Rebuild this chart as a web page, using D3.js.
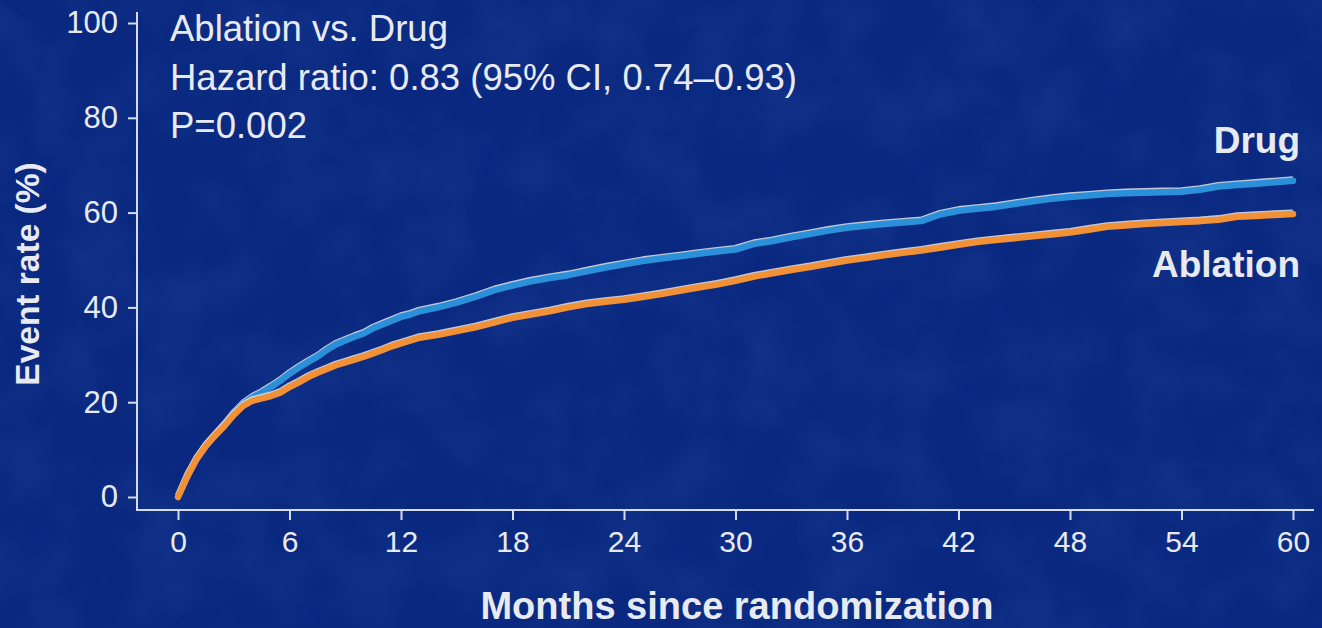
<!DOCTYPE html>
<html>
<head>
<meta charset="utf-8">
<script src="https://cdn.jsdelivr.net/npm/d3@7"></script>
<style>
  html, body { margin: 0; padding: 0; background: #0a2880; }
  svg { display: block; }
  text { font-family: "Liberation Sans", Arial, sans-serif; fill: #e8eaf2; }
</style>
</head>
<body>
<svg id="chart" width="1322" height="628"></svg>
<script>
// Kaplan–Meier cumulative event rate (%) by month since randomization
const drugMonths = [0,0.5,1,1.5,2,2.5,3,3.5,4,4.5,5,5.5,6,6.5,7,7.5,8,8.5,9,9.5,10,10.5,11,11.5,12,12.5,13,14,15,16,17,18,19,20,21,22,23,24,25,26,27,28,29,30,31,32,33,34,35,36,37,38,39,40,41,42,43,44,45,46,47,48,49,50,51,52,53,54,55,56,57,58,59,60];
const drugRate = [0,4.5,8,10.8,13,15.2,17.6,19.6,21,22,23.2,24.5,26,27.3,28.5,29.6,31,32.2,33,33.8,34.5,35.6,36.4,37.2,38,38.5,39.2,40,41,42.2,43.6,44.6,45.5,46.2,46.8,47.6,48.4,49.1,49.8,50.3,50.8,51.3,51.8,52.2,53.4,54,54.8,55.5,56.2,56.8,57.2,57.6,57.9,58.2,59.6,60.4,60.8,61.2,61.8,62.4,62.9,63.3,63.6,63.9,64.1,64.2,64.3,64.4,64.8,65.5,65.8,66.1,66.4,66.7];

const ablationMonths = [0,0.5,1,1.5,2,2.5,3,3.5,4,4.5,5,5.5,6,6.5,7,7.5,8,8.5,9,9.5,10,10.5,11,11.5,12,13,14,15,16,17,18,19,20,21,22,23,24,25,26,27,28,29,30,31,32,33,34,35,36,37,38,39,40,41,42,43,44,45,46,47,48,49,50,51,52,53,54,55,56,57,58,59,60];
const ablationRate = [0,4.3,8,10.8,13,15,17.3,19.2,20.3,20.8,21.3,22,23.2,24.2,25.3,26.2,27,27.8,28.4,29,29.6,30.3,31,31.8,32.4,33.6,34.2,35,35.8,36.8,37.8,38.5,39.2,40,40.7,41.2,41.6,42.2,42.8,43.5,44.2,44.8,45.6,46.5,47.2,47.9,48.5,49.2,49.9,50.4,51,51.5,52,52.6,53.2,53.8,54.2,54.6,55,55.4,55.8,56.4,57,57.3,57.6,57.8,58,58.2,58.5,59.1,59.3,59.5,59.7];

const xTicks = [0,6,12,18,24,30,36,42,48,54,60];
const yTicks = [0,20,40,60,80,100];
const statsLines = ["Ablation vs. Drug", "Hazard ratio: 0.83 (95% CI, 0.74\u20130.93)", "P=0.002"];

const svg = d3.select("#chart");
const W = 1322, H = 628;

// textured navy backdrop
const defs = svg.append("defs");
const f = defs.append("filter").attr("id", "mottle").attr("x", 0).attr("y", 0).attr("width", 1).attr("height", 1);
f.append("feTurbulence").attr("type", "fractalNoise").attr("baseFrequency", 0.015).attr("numOctaves", 3).attr("seed", 7).attr("result", "n");
f.append("feColorMatrix").attr("in", "n").attr("type", "matrix")
  .attr("values", "0 0 0 0 0.06  0 0 0 0 0.19  0 0 0 0 0.56  0 0 0 -1.2 0.75").attr("result", "c");
f.append("feComposite").attr("in", "c").attr("in2", "SourceGraphic").attr("operator", "in");
svg.append("rect").attr("width", W).attr("height", H).attr("fill", "#0a2880");
svg.append("rect").attr("width", W).attr("height", H).attr("fill", "#0a2880").attr("filter", "url(#mottle)").attr("opacity", 0.22);

const x = d3.scaleLinear().domain([0, 60]).range([178, 1293]);
const y = d3.scaleLinear().domain([0, 100]).range([497, 23]);
const axisColor = "#d6dbee";
const fontStack = "Liberation Sans, Arial, sans-serif";

// axes
const xAxisY = 510, yAxisX = 137;
const gx = svg.append("g").attr("transform", `translate(0,${xAxisY})`)
  .call(d3.axisBottom(x).tickValues(xTicks).tickSize(10).tickPadding(11).tickFormat(d3.format("d")));
gx.select(".domain").remove();
gx.selectAll(".tick line").attr("stroke", axisColor).attr("stroke-width", 2);
gx.selectAll(".tick text").attr("font-size", 30).attr("fill", "#e8eaf2").attr("font-family", fontStack);
svg.append("line").attr("x1", yAxisX).attr("x2", 1314).attr("y1", xAxisY).attr("y2", xAxisY)
  .attr("stroke", axisColor).attr("stroke-width", 2);

const gy = svg.append("g").attr("transform", `translate(${yAxisX},0)`)
  .call(d3.axisLeft(y).tickValues(yTicks).tickSize(9).tickPadding(10).tickFormat(d3.format("d")));
gy.select(".domain").remove();
gy.selectAll(".tick line").attr("stroke", axisColor).attr("stroke-width", 2);
gy.selectAll(".tick text").attr("font-size", 31).attr("fill", "#e8eaf2").attr("font-family", fontStack);
svg.append("line").attr("x1", yAxisX).attr("x2", yAxisX).attr("y1", 12).attr("y2", xAxisY + 1)
  .attr("stroke", axisColor).attr("stroke-width", 2);

// axis titles
svg.append("text").attr("x", 737).attr("y", 619).attr("text-anchor", "middle")
  .attr("font-size", 38).attr("font-weight", "bold").text("Months since randomization");
svg.append("text").attr("transform", "translate(39,274) rotate(-90)").attr("text-anchor", "middle")
  .attr("font-size", 33.5).attr("font-weight", "bold").text("Event rate (%)");

// event-rate curves
const path = d3.line().x(d => x(d[0])).y(d => y(d[1]));
function curve(months, rates, color) {
  const pts = months.map((m, i) => [m, rates[i]]);
  svg.append("path").datum(pts).attr("d", path).attr("fill", "none")
    .attr("stroke", "#f2efe8").attr("stroke-width", 6).attr("opacity", 0.8)
    .attr("stroke-linejoin", "round").attr("transform", "translate(0,-1.6)");
  svg.append("path").datum(pts).attr("d", path).attr("fill", "none")
    .attr("stroke", color).attr("stroke-width", 6.5)
    .attr("stroke-linejoin", "round").attr("stroke-linecap", "round");
}
curve(drugMonths, drugRate, "#2b90da");
curve(ablationMonths, ablationRate, "#f29036");

// series labels
svg.append("text").attr("x", 1300).attr("y", 153).attr("text-anchor", "end")
  .attr("font-size", 37).attr("font-weight", "bold").text("Drug");
svg.append("text").attr("x", 1300).attr("y", 277).attr("text-anchor", "end")
  .attr("font-size", 37).attr("font-weight", "bold").text("Ablation");

// statistics block
svg.append("g").selectAll("text").data(statsLines).join("text")
  .attr("x", 170).attr("y", (d, i) => 41 + i * 48.5)
  .attr("font-size", 36.5).text(d => d);
</script>
</body>
</html>
